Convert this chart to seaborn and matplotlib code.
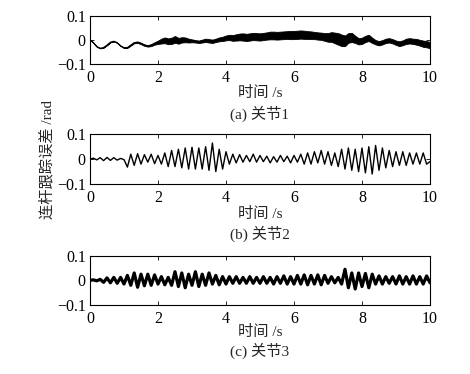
import matplotlib
matplotlib.use("Agg")
import matplotlib.pyplot as plt
import seaborn as sns
import numpy as np

sns.set_style("ticks")
plt.rcParams['font.family'] = ['Liberation Serif', 'Noto Sans CJK SC']
plt.rcParams['axes.unicode_minus'] = True

t = np.arange(101) * 0.1

# joint 1: slow centre curve + half-width of the dense high-frequency band
joint1_mid = [
    0.000, -0.012, -0.028, -0.035, -0.032, -0.022, -0.010, -0.006, -0.012, -0.025,
    -0.033, -0.032, -0.022, -0.012, -0.010, -0.015, -0.022, -0.025, -0.022, -0.015,
    -0.010, -0.005, -0.002, -0.006, -0.004, 0.002, -0.004, 0.000, 0.000, -0.003,
    -0.004, -0.006, -0.008, -0.005, -0.002, -0.004, -0.006, -0.002, 0.002, 0.004,
    0.008, 0.010, 0.008, 0.010, 0.012, 0.012, 0.010, 0.012, 0.014, 0.013,
    0.012, 0.014, 0.016, 0.018, 0.018, 0.017, 0.018, 0.019, 0.020, 0.020,
    0.020, 0.021, 0.022, 0.021, 0.020, 0.019, 0.018, 0.016, 0.015, 0.012,
    0.010, 0.012, 0.008, 0.004, -0.002, -0.004, 0.008, 0.010, 0.002, -0.006,
    -0.004, 0.004, 0.008, -0.002, -0.010, -0.014, -0.010, -0.004, -0.002, -0.006,
    -0.012, -0.016, -0.012, -0.006, -0.004, -0.006, -0.008, -0.012, -0.016, -0.018,
    -0.022,
]
joint1_half = [
    0.000, 0.000, 0.000, 0.000, 0.000, 0.000, 0.000, 0.000, 0.000, 0.000,
    0.001, 0.001, 0.002, 0.002, 0.003, 0.003, 0.003, 0.003, 0.004, 0.005,
    0.007, 0.010, 0.012, 0.012, 0.013, 0.014, 0.012, 0.011, 0.010, 0.008,
    0.006, 0.005, 0.005, 0.006, 0.007, 0.007, 0.007, 0.007, 0.008, 0.009,
    0.010, 0.011, 0.012, 0.013, 0.014, 0.015, 0.015, 0.015, 0.015, 0.015,
    0.015, 0.015, 0.015, 0.016, 0.016, 0.016, 0.016, 0.016, 0.016, 0.017,
    0.017, 0.017, 0.017, 0.017, 0.016, 0.016, 0.015, 0.015, 0.015, 0.016,
    0.018, 0.020, 0.022, 0.024, 0.024, 0.022, 0.020, 0.019, 0.015, 0.013,
    0.013, 0.013, 0.013, 0.011, 0.009, 0.009, 0.009, 0.009, 0.009, 0.009,
    0.009, 0.010, 0.010, 0.011, 0.011, 0.011, 0.012, 0.012, 0.013, 0.013,
    0.013,
]

# joint 2: alternating peaks / troughs
joint2 = [
    0.000, 0.004, -0.003, 0.006, -0.006, 0.007, -0.005, 0.006, -0.004, 0.003,
    -0.002, -0.032, 0.020, -0.025, 0.022, -0.020, 0.018, -0.012, 0.020, -0.018,
    0.015, -0.020, 0.025, -0.030, 0.035, -0.030, 0.040, -0.035, 0.045, -0.040,
    0.048, -0.040, 0.045, -0.040, 0.050, -0.045, 0.065, -0.050, 0.040, -0.040,
    0.030, -0.020, 0.020, -0.015, 0.018, -0.012, 0.015, -0.010, 0.020, -0.012,
    0.015, -0.010, 0.012, -0.015, 0.010, -0.012, 0.015, -0.010, 0.012, -0.015,
    0.015, -0.012, 0.020, -0.020, 0.025, -0.020, 0.030, -0.015, 0.035, -0.020,
    0.030, -0.025, 0.025, -0.030, 0.040, -0.040, 0.045, -0.045, 0.040, -0.050,
    0.045, -0.055, 0.050, -0.060, 0.055, -0.045, 0.045, -0.035, 0.035, -0.030,
    0.030, -0.025, 0.030, -0.025, 0.025, -0.020, 0.025, -0.020, 0.025, -0.020,
    -0.010,
]

# joint 3: alternating peaks / troughs
joint3 = [
    0.000, 0.002, -0.002, 0.004, -0.008, 0.010, -0.010, 0.012, -0.012, 0.012,
    -0.015, 0.020, -0.020, 0.030, -0.028, 0.025, -0.022, 0.025, -0.020, 0.022,
    -0.015, 0.015, -0.018, 0.012, -0.020, 0.035, -0.025, 0.030, -0.030, 0.025,
    -0.020, 0.035, -0.025, 0.025, -0.020, 0.030, -0.015, 0.020, -0.018, 0.015,
    -0.015, 0.015, -0.012, 0.015, -0.012, 0.012, -0.012, 0.015, -0.012, 0.012,
    -0.012, 0.015, -0.012, 0.012, -0.015, 0.015, -0.012, 0.018, -0.015, 0.015,
    -0.015, 0.020, -0.015, 0.022, -0.018, 0.020, -0.015, 0.022, -0.018, 0.020,
    -0.012, 0.015, -0.010, 0.012, -0.015, 0.045, -0.030, 0.030, -0.035, 0.030,
    -0.025, 0.028, -0.030, 0.025, -0.015, 0.018, -0.015, 0.015, -0.012, 0.015,
    -0.015, 0.018, -0.015, 0.015, -0.015, 0.018, -0.015, 0.015, -0.015, 0.018,
    -0.010,
]

captions = ['(a) 关节1', '(b) 关节2', '(c) 关节3']
xticks = [0, 2, 4, 6, 8, 10]
yticks = [-0.1, 0, 0.1]
ytick_labels = ['\u22120.1', '0', '0.1']

W, H = 470, 374
fig = plt.figure(figsize=(W / 100, H / 100), dpi=100)

# axes boxes in pixels: (top, bottom)
boxes = [(15.7, 64.0), (134.3, 184.0), (255.7, 305.0)]
left_px, right_px = 90, 430
# y pixel centres for xlabel / caption under each axes
label_y = [(93, 114), (214, 234), (332, 351)]

axes = []
for (top, bot) in boxes:
    ax = fig.add_axes([left_px / W, 1 - bot / H, (right_px - left_px) / W, (bot - top) / H])
    axes.append(ax)

mid = np.array(joint1_mid)
half = np.array(joint1_half)
axes[0].fill_between(t, mid - half, mid + half, color='black', lw=0.6)
sns.lineplot(x=t, y=mid, ax=axes[0], color='black', lw=0.9)
sns.lineplot(x=t, y=joint2, ax=axes[1], color='black', lw=1.0)
sns.lineplot(x=t, y=joint3, ax=axes[2], color='black', lw=2.3)

for i, ax in enumerate(axes):
    ax.set_xlim(0, 10)
    ax.set_ylim(-0.1, 0.1)
    ax.set_xticks(xticks)
    ax.set_xticklabels([str(v) for v in xticks])
    ax.set_yticks(yticks)
    ax.set_yticklabels(ytick_labels)
    ax.tick_params(direction='in', length=3, width=0.6, top=True, right=True,
                   labelsize=11.5, colors='black', pad=3)
    ax.tick_params(axis='x', pad=4)
    for s in ax.spines.values():
        s.set_visible(True)
        s.set_linewidth(0.8)
        s.set_color('black')
    ax.set_xlabel('')
    ax.set_ylabel('')
    cx = (left_px + right_px) / 2 / W
    fig.text(cx, 1 - label_y[i][0] / H, '时间 /s', ha='center', va='center', fontsize=11)
    fig.text(cx, 1 - label_y[i][1] / H, captions[i], ha='center', va='center', fontsize=11)

fig.text(47 / W, 1 - 160 / H, '连杆跟踪误差 /rad', rotation=90, ha='center', va='center',
         fontsize=11)

fig.savefig('out.png', dpi=100, facecolor='white')
